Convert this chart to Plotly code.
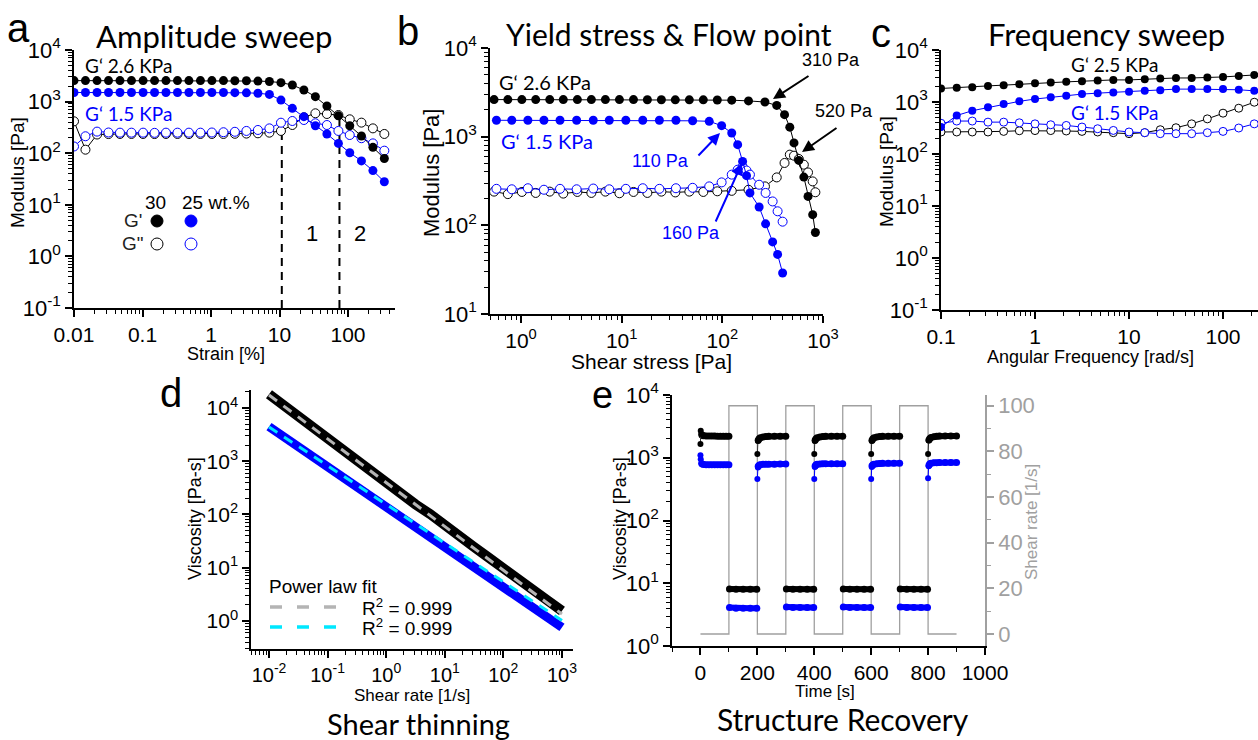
import plotly.graph_objects as go

# ---------------- data ----------------
# (a) amplitude sweep
a_strain = [0.0100, 0.0147, 0.0217, 0.0319, 0.0469, 0.0690, 0.102, 0.150, 0.220, 0.324, 0.476, 0.701,
            1.03, 1.52, 2.23, 3.29, 4.84, 7.12, 10.5, 15.4, 22.7, 33.4, 49.2, 72.4, 106, 157, 231, 339]
a_Gp30 = [2550, 2550, 2550, 2550, 2550, 2550, 2550, 2550, 2550, 2550, 2550, 2550, 2550, 2550, 2540, 2530,
          2500, 2450, 2330, 2100, 1680, 1245, 822, 530, 341, 215, 130, 79]
a_Gp25 = [1500, 1500, 1500, 1500, 1500, 1500, 1500, 1500, 1500, 1500, 1500, 1500, 1500, 1500, 1490, 1480,
          1450, 1380, 1070, 740, 510, 341, 236, 155, 102, 71, 46, 28]
a_Gpp30 = [415, 117, 230, 235, 236, 236, 236, 235, 236, 236, 235, 236, 236, 236, 238, 240,
           243, 250, 270, 352, 497, 593, 575, 550, 454, 391, 303, 236]
a_Gpp25 = [135, 213, 262, 252, 250, 250, 250, 248, 250, 250, 250, 250, 252, 255, 260, 270,
           282, 303, 390, 421, 440, 380, 352, 270, 225, 195, 155, 112]
a_limits_x = [10.8, 75]
a_limits_top = [260, 450]

# (b) yield stress & flow point
b_stress30 = [0.54, 0.74, 1.02, 1.40, 1.93, 2.63, 3.63, 5.0, 6.89, 9.5, 13.1, 18.0, 24.8, 34.1, 47.0,
              64.7, 89.1, 124, 182, 265, 347, 415, 468, 515, 575, 645, 710, 790, 840]
b_Gp30 = [2620, 2620, 2620, 2620, 2620, 2620, 2620, 2620, 2620, 2620, 2620, 2610, 2610, 2600, 2600,
          2600, 2590, 2580, 2530, 2460, 2250, 1770, 1280, 850, 540, 350, 212, 132, 83]
b_Gpp30 = [240, 225, 238, 232, 240, 228, 238, 232, 240, 230, 238, 232, 240, 235, 240,
           238, 242, 245, 252, 275, 347, 505, 627, 610, 560, 483, 395, 313, 236]
b_stress25 = [0.57, 0.81, 1.17, 1.69, 2.44, 3.57, 5.22, 7.53, 11.0, 16.2, 23.7, 34.6, 50.7, 74.1,
              98.4, 124, 142, 159, 174, 188, 232, 269, 316, 354, 397]
b_Gp25 = [1530, 1530, 1530, 1530, 1530, 1530, 1530, 1530, 1530, 1530, 1530, 1530, 1510, 1490,
          1330, 1100, 812, 526, 363, 232, 161, 104, 65, 47, 29]
b_Gpp25 = [258, 255, 262, 252, 258, 255, 260, 255, 258, 262, 258, 262, 265, 275,
           305, 373, 424, 460, 415, 373, 287, 232, 186, 144, 110]

# (c) frequency sweep
c_freq = [0.1, 0.147, 0.215, 0.316, 0.464, 0.681, 1.0, 1.47, 2.15, 3.16, 4.64, 6.81, 10.0, 14.7,
          21.5, 31.6, 46.4, 68.1, 100, 147, 215]
c_Gp30 = [1820, 1870, 1930, 2040, 2110, 2200, 2300, 2370, 2440, 2510, 2590, 2660, 2660, 2740,
          2830, 2900, 2900, 2950, 3030, 3170, 3310]
c_Gp25 = [330, 550, 680, 790, 915, 1030, 1140, 1230, 1320, 1420, 1480, 1530, 1570, 1640,
          1690, 1770, 1770, 1770, 1770, 1720, 1640]
c_Gpp30 = [265, 265, 265, 265, 272, 280, 282, 282, 277, 272, 265, 257, 246, 257,
           293, 320, 380, 474, 610, 760, 990]
c_Gpp25 = [390, 430, 430, 410, 410, 398, 380, 365, 354, 330, 306, 284, 265, 257,
           246, 246, 246, 257, 272, 316, 380]

# (d) shear thinning
d_rate = [0.01, 0.0178, 0.0316, 0.0562, 0.1, 0.178, 0.316, 0.562, 1, 1.78, 3.16, 5.62, 10,
          17.8, 31.6, 56.2, 100, 178, 316, 562, 1000]
d_visc30 = [18200, 11200, 6900, 4400, 2700, 1660, 1020, 630, 400, 245, 155, 102, 66,
            40, 24.5, 15.5, 9.5, 6.0, 3.8, 2.45, 1.55]
d_visc25 = [4470, 2880, 1860, 1230, 794, 513, 331, 214, 138, 91, 59, 38, 24.5,
            15.8, 10.2, 6.8, 4.4, 2.8, 1.82, 1.17, 0.76]
d_fit_rate = [0.01, 1000]
d_fit30 = [17500, 1.35]
d_fit25 = [4400, 1.02]

# (e) structure recovery (thixotropy)
e_step_t = [0, 100, 200, 300, 400, 500, 600, 700, 800, 900]
e_step_rate = [0, 100, 0, 100, 0, 100, 0, 100, 0, 0]
e_low_t = [5, 10, 20, 30, 40, 50, 60, 70, 80, 90, 100, None,
           203, 206, 210, 220, 230, 240, 260, 280, 300, None,
           403, 406, 410, 420, 430, 440, 460, 480, 500, None,
           603, 606, 610, 620, 630, 640, 660, 680, 700, None,
           803, 806, 810, 820, 830, 840, 860, 880, 900]
e_low30 = [2300, 2250, 2230, 2220, 2220, 2220, 2210, 2210, 2210, 2210, 2210, None,
           1900, 2000, 2080, 2150, 2180, 2200, 2200, 2210, 2210, None,
           1900, 2000, 2080, 2150, 2180, 2200, 2210, 2210, 2210, None,
           1900, 2000, 2080, 2150, 2180, 2200, 2210, 2210, 2210, None,
           1920, 2020, 2100, 2170, 2200, 2220, 2230, 2230, 2230]
e_low25 = [800, 780, 775, 773, 772, 772, 772, 772, 772, 772, 772, None,
           730, 760, 775, 785, 790, 790, 790, 792, 792, None,
           740, 770, 785, 795, 800, 800, 800, 800, 800, None,
           745, 775, 790, 805, 810, 815, 815, 815, 815, None,
           760, 800, 820, 830, 835, 840, 840, 840, 840]
e_high_t = [102, 125, 150, 175, 198, None, 302, 325, 350, 375, 398, None,
            502, 525, 550, 575, 598, None, 702, 725, 750, 775, 798]
e_high30 = [8.1, 8.0, 8.0, 8.0, 8.0, None, 8.1, 8.0, 8.0, 8.0, 8.0, None,
            8.1, 8.0, 8.0, 8.0, 8.0, None, 8.1, 8.0, 8.0, 8.0, 8.0]
e_high25 = [4.1, 4.0, 4.0, 4.0, 4.0, None, 4.2, 4.1, 4.1, 4.1, 4.1, None,
            4.2, 4.1, 4.1, 4.1, 4.1, None, 4.2, 4.1, 4.1, 4.1, 4.1]
e_tr_t = [0, 1, 3, None, 200, 202, None, 400, 402, None, 600, 602, None, 800, 802]
e_tr30 = [1650, 2700, 2400, None, 1150, 1850, None, 1150, 1850, None, 1150, 1850, None, 1150, 1880]
e_tr25 = [1100, 950, 820, None, 460, 700, None, 460, 710, None, 460, 715, None, 470, 730]

# ---------------- layout helpers ----------------
W, H = 1258, 740
ARIAL = "Liberation Sans, Arial, sans-serif"
TITLEF = "Lato, Carlito, Calibri, sans-serif"
BLUE = "#0000ff"
GRAY = "#a0a0a0"


def px(X):
    return X / W


def py(Y):
    return 1 - Y / H


def logminor(lo, hi):
    return [m * 10 ** e for e in range(lo, hi) for m in range(2, 10)]


def sup_labels(exps):
    return ["10<sup>%d</sup>" % e for e in exps]


def axstyle(size=22, **kw):
    d = dict(showline=True, linecolor="black", linewidth=1.5, ticks="outside", ticklen=7,
             tickwidth=1.5, tickcolor="black", showgrid=False, zeroline=False, mirror=False,
             automargin=False, tickfont=dict(family=ARIAL, size=size, color="black"))
    d.update(kw)
    return d


def minor(vals, color="black"):
    return dict(ticks="outside", ticklen=4, tickwidth=1, tickcolor=color, tickmode="array",
                tickvals=vals, showgrid=False)


fig = go.Figure()


def filled(x, y, color, xa, ya, size):
    fig.add_trace(go.Scatter(x=x, y=y, mode="lines+markers", xaxis=xa, yaxis=ya,
                             line=dict(color=color, width=1),
                             marker=dict(color=color, size=size, line=dict(width=0))))


def opened(x, y, color, xa, ya, size):
    fig.add_trace(go.Scatter(x=x, y=y, mode="lines+markers", xaxis=xa, yaxis=ya,
                             line=dict(color=color, width=1),
                             marker=dict(color="white", size=size, line=dict(color=color, width=1))))


# (a)
for xv, top in zip(a_limits_x, a_limits_top):
    fig.add_trace(go.Scatter(x=[xv, xv], y=[0.1, top], mode="lines", xaxis="x", yaxis="y",
                             line=dict(color="black", width=2, dash="8px,6px")))
opened(a_strain, a_Gpp30, "black", "x", "y", 9)
opened(a_strain, a_Gpp25, BLUE, "x", "y", 9)
filled(a_strain, a_Gp30, "black", "x", "y", 9)
filled(a_strain, a_Gp25, BLUE, "x", "y", 9)

# (b)
opened(b_stress30, b_Gpp30, "black", "x2", "y2", 9)
opened(b_stress25, b_Gpp25, BLUE, "x2", "y2", 9)
filled(b_stress30, b_Gp30, "black", "x2", "y2", 9)
filled(b_stress25, b_Gp25, BLUE, "x2", "y2", 9)

# (c)
opened(c_freq, c_Gpp30, "black", "x3", "y3", 8)
opened(c_freq, c_Gpp25, BLUE, "x3", "y3", 8)
filled(c_freq, c_Gp30, "black", "x3", "y3", 8)
filled(c_freq, c_Gp25, BLUE, "x3", "y3", 8)

# (d)
fig.add_trace(go.Scatter(x=d_rate, y=d_visc30, mode="lines", xaxis="x4", yaxis="y4",
                         line=dict(color="black", width=10)))
fig.add_trace(go.Scatter(x=d_rate, y=d_visc25, mode="lines", xaxis="x4", yaxis="y4",
                         line=dict(color=BLUE, width=9)))
fig.add_trace(go.Scatter(x=d_fit_rate, y=d_fit30, mode="lines", xaxis="x4", yaxis="y4",
                         line=dict(color="#b4b4b4", width=3, dash="10px,8px")))
fig.add_trace(go.Scatter(x=d_fit_rate, y=d_fit25, mode="lines", xaxis="x4", yaxis="y4",
                         line=dict(color="#00e8ff", width=3, dash="10px,8px")))

# (e)  base axis y5 = shear rate (right), overlay y6 = viscosity (left, log)
fig.add_trace(go.Scatter(x=e_step_t, y=e_step_rate, mode="lines", xaxis="x5", yaxis="y5",
                         line=dict(color=GRAY, width=1.3, shape="hv")))
for t, v, c in [(e_low_t, e_low30, "black"), (e_low_t, e_low25, BLUE),
                (e_high_t, e_high30, "black"), (e_high_t, e_high25, BLUE)]:
    fig.add_trace(go.Scatter(x=t, y=v, mode="lines+markers", xaxis="x5", yaxis="y6",
                             line=dict(color=c, width=6), marker=dict(color=c, size=7)))
for v, c in [(e_tr30, "black"), (e_tr25, BLUE)]:
    fig.add_trace(go.Scatter(x=e_tr_t, y=v, mode="lines+markers", xaxis="x5", yaxis="y6",
                             line=dict(color="#333333" if c == "black" else c, width=1),
                             marker=dict(color=c, size=6)))

# ---------------- axes ----------------
fig.update_layout(
    template="none",
    xaxis=axstyle(21, type="log", domain=[px(74), px(395)], range=[-2, 2.686], anchor="y",
                  tickvals=[0.01, 0.1, 1, 10, 100], ticktext=["0.01", "0.1", "1", "10", "100"],
                  minor=minor(logminor(-2, 3))),
    yaxis=axstyle(22, type="log", domain=[py(308), py(50)], range=[-1, 4], anchor="x",
                  tickvals=[0.1, 1, 10, 100, 1000, 10000], ticktext=sup_labels(range(-1, 5)),
                  minor=minor(logminor(-1, 4))),
    xaxis2=axstyle(21, type="log", domain=[px(490), px(823)], range=[-0.308, 3], anchor="y2",
                   tickvals=[1, 10, 100, 1000], ticktext=sup_labels(range(0, 4)),
                   minor=minor(logminor(-1, 3))),
    yaxis2=axstyle(22, type="log", domain=[py(314), py(48)], range=[1, 4], anchor="x2",
                   tickvals=[10, 100, 1000, 10000], ticktext=sup_labels(range(1, 5)),
                   minor=minor(logminor(1, 4))),
    xaxis3=axstyle(21, type="log", domain=[px(941), 1.0], range=[-1, 2.372], anchor="y3",
                   tickvals=[0.1, 1, 10, 100], ticktext=["0.1", "1", "10", "100"],
                   minor=minor(logminor(-1, 3))),
    yaxis3=axstyle(22, type="log", domain=[py(310), py(50)], range=[-1, 4], anchor="x3",
                   tickvals=[0.1, 1, 10, 100, 1000, 10000], ticktext=sup_labels(range(-1, 5)),
                   minor=minor(logminor(-1, 4))),
    xaxis4=axstyle(20, type="log", domain=[px(251), px(573)], range=[-2.307, 3.188], anchor="y4",
                   tickvals=[0.01, 0.1, 1, 10, 100, 1000], ticktext=sup_labels(range(-2, 4)),
                   minor=minor(logminor(-3, 4))),
    yaxis4=axstyle(21, type="log", domain=[py(649), py(390)], range=[-0.526, 4.338], anchor="x4",
                   tickvals=[1, 10, 100, 1000, 10000], ticktext=sup_labels(range(0, 5)),
                   minor=minor(logminor(-1, 5))),
    xaxis5=axstyle(21, domain=[px(672), px(985)], range=[-100, 1000], anchor="y5",
                   tickvals=[0, 200, 400, 600, 800, 1000],
                   minor=minor([-100, 100, 300, 500, 700, 900])),
    yaxis5=axstyle(22, domain=[py(646), py(395)], range=[-5.25, 104.7], anchor="x5", side="right",
                   linecolor=GRAY, tickcolor=GRAY, tickvals=[0, 20, 40, 60, 80, 100],
                   tickfont=dict(family=ARIAL, size=22, color=GRAY),
                   minor=minor([10, 30, 50, 70, 90], GRAY)),
    yaxis6=axstyle(22, type="log", overlaying="y5", side="left", anchor="x5", range=[0, 4],
                   tickvals=[1, 10, 100, 1000, 10000], ticktext=sup_labels(range(0, 5)),
                   minor=minor(logminor(0, 4))),
)

# ---------------- annotations ----------------
ann = []


def text(t, X, Y, size, color="black", family=ARIAL, angle=0, xanchor="center"):
    ann.append(dict(text=t, x=px(X), y=py(Y), xref="paper", yref="paper", showarrow=False,
                    font=dict(size=size, color=color, family=family), textangle=angle,
                    xanchor=xanchor, yanchor="middle"))


def arrow(hx, hy, tx, ty, color):
    ann.append(dict(text="", x=px(hx), y=py(hy), xref="paper", yref="paper", showarrow=True,
                    ax=tx - hx, ay=ty - hy, arrowhead=2, arrowsize=1.2, arrowwidth=2,
                    arrowcolor=color, font=dict(size=1)))


# panel letters
text("a", 18, 28, 40)
text("b", 408, 31, 40)
text("c", 881, 33, 40)
text("d", 171, 393, 40)
text("e", 602, 395, 38)
# panel titles
text("Amplitude sweep", 214, 36, 31, family=TITLEF)
text("Yield stress &amp; Flow point", 669, 34, 30, family=TITLEF)
text("Frequency sweep", 1106, 34, 31, family=TITLEF)
text("Shear thinning", 418, 723, 29, family=TITLEF)
text("Structure Recovery", 843, 719, 30, family=TITLEF)
# axis titles
text("Strain [%]", 226, 354, 18)
text("Modulus [Pa]", 18, 173, 19, angle=-90)
text("Shear stress [Pa]", 651, 361, 21)
text("Modulus [Pa]", 432, 173, 22, angle=-90)
text("Angular Frequency [rad/s]", 1090, 357, 18)
text("Modulus [Pa]", 886, 172, 19, angle=-90)
text("Shear rate [1/s]", 412, 695, 17)
text("Viscosity [Pa-s]", 195, 519, 18, angle=-90)
text("Time [s]", 825, 691, 17)
text("Viscosity [Pa-s]", 620, 519, 18, angle=-90)
text("Shear rate [1/s]", 1031, 522, 17, color=GRAY, angle=-90)
# panel a labels
text("G‘ 2.6 KPa", 128, 65, 19, family=TITLEF)
text("G‘ 1.5 KPa", 128, 114, 19, color=BLUE, family=TITLEF)
text("1", 312, 233, 22)
text("2", 360, 233, 22)
text("30", 155, 203, 19)
text("25 wt.%", 216, 203, 19)
text("G'", 133, 221, 19, color="#222222")
text('G"', 133, 244, 19, color="#222222")
# panel b labels
text("G‘ 2.6 KPa", 545, 82, 20, family=TITLEF)
text("G‘ 1.5 KPa", 547, 141, 20, color=BLUE, family=TITLEF)
text("310 Pa", 831, 60, 18)
text("520 Pa", 844, 111, 18)
text("110 Pa", 660, 161, 18, color=BLUE)
text("160 Pa", 691, 233, 18, color=BLUE)
arrow(773, 99, 810, 75, "black")
arrow(802, 152, 838, 127, "black")
arrow(720, 133, 697, 157, BLUE)
arrow(742, 163, 715, 223, BLUE)
# panel c labels
text("G‘ 2.5 KPa", 1114, 64, 19, family=TITLEF)
text("G‘ 1.5 KPa", 1114, 112, 19, color=BLUE, family=TITLEF)
# panel d legend
text("Power law fit", 323, 586, 19)
text("R<sup>2</sup> = 0.999", 360, 607, 19, xanchor="left")
text("R<sup>2</sup> = 0.999", 360, 627, 19, xanchor="left")

shapes = []
for X, Y, fillc, linec in [(157, 221, "black", "black"), (191, 221, BLUE, BLUE),
                           (157, 244, "white", "black"), (191, 244, "white", BLUE)]:
    shapes.append(dict(type="circle", xref="paper", yref="paper", x0=px(X - 6), x1=px(X + 6),
                       y0=py(Y + 6), y1=py(Y - 6), fillcolor=fillc, line=dict(color=linec, width=1)))
for Y, c in [(607, "#b4b4b4"), (627, "#00e8ff")]:
    shapes.append(dict(type="line", xref="paper", yref="paper", x0=px(270), x1=px(345),
                       y0=py(Y), y1=py(Y), line=dict(color=c, width=3.5, dash="12px,15px")))

fig.update_layout(width=W, height=H, margin=dict(l=0, r=0, t=0, b=0, autoexpand=False),
                  showlegend=False, plot_bgcolor="white", paper_bgcolor="white",
                  annotations=ann, shapes=shapes, font=dict(family=ARIAL, color="black"))

# remove the default 8px page margin so the 1258x740 figure fills the window exactly
fig.write_html("out.html", config={"displayModeBar": False},
               post_script="document.body.style.margin='0px';document.body.style.overflow='hidden';")
